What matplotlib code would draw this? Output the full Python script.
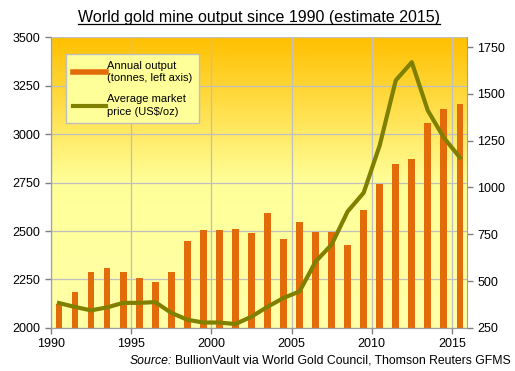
import matplotlib
matplotlib.use("Agg")
import matplotlib.pyplot as plt
import numpy as np
from matplotlib.colors import LinearSegmentedColormap
from matplotlib.lines import Line2D

plt.rcParams['font.family'] = ['Liberation Sans', 'DejaVu Sans']

years = list(range(1990, 2016))
# annual mine output, tonnes (left axis)
output = [2125, 2186, 2289, 2309, 2289, 2258, 2237, 2289, 2448, 2505,
          2505, 2510, 2490, 2593, 2459, 2546, 2495, 2495, 2428, 2608,
          2742, 2845, 2871, 3057, 3129, 3155]
# average gold price, US$/oz (right axis)
price = [383, 362, 344, 360, 384, 384, 388, 331, 294, 279,
         279, 271, 310, 363, 410, 445, 604, 695, 872, 972,
         1225, 1572, 1669, 1411, 1266, 1160]

left_ticks = [2000, 2250, 2500, 2750, 3000, 3250, 3500]
right_ticks = [250, 500, 750, 1000, 1250, 1500, 1750]
x_ticks = [1990, 1995, 2000, 2005, 2010, 2015]

BAR = '#E36C0A'
LINE = '#808000'
GRID = '#BFBFBF'

fig = plt.figure(figsize=(5.15, 3.71), dpi=100)
ax = fig.add_axes([0.099, 0.116, 0.808, 0.784])

# gradient background
cmap = LinearSegmentedColormap.from_list(
    'bg', [(0.0, '#FFFFA8'), (0.5, '#FFFF99'), (1.0, '#FFC000')])
grad = np.linspace(0, 1, 256).reshape(-1, 1)
ax.imshow(grad, aspect='auto', cmap=cmap, origin='lower',
          extent=[0, 1, 0, 1], transform=ax.transAxes, zorder=0)

xs = np.array(years) + 0.5
ax.bar(xs, output, width=0.42, color=BAR, zorder=2)
ax.set_xlim(1990, 2015.95)
ax.set_ylim(2000, 3500)
ax.set_yticks(left_ticks)
ax.set_xticks(x_ticks)
ax.grid(True, color=GRID, lw=0.9, zorder=1)
ax.set_axisbelow(True)

ax2 = ax.twinx()
ax2.plot(xs, price, color=LINE, lw=3, solid_joinstyle='round', zorder=3)
ax2.set_ylim(250, 1803)
ax2.set_yticks(right_ticks)

for a in (ax, ax2):
    for s in a.spines.values():
        s.set_color('#A0A0A0')
    a.tick_params(colors='#808080', labelcolor='black', labelsize=9,
                  length=4, width=1)
ax.spines['top'].set_visible(False)
ax2.spines['top'].set_visible(False)
ax.spines['right'].set_visible(False)

handles = [Line2D([], [], color=BAR, lw=4),
           Line2D([], [], color=LINE, lw=3)]
labels = ['Annual output\n(tonnes, left axis)', 'Average market\nprice (US$/oz)']
leg = ax2.legend(handles, labels, loc='upper left', bbox_to_anchor=(0.036, 0.942),
                 borderaxespad=0, fontsize=8, fancybox=False, framealpha=1,
                 facecolor='#FFFF99', edgecolor='#BFBFBF', handlelength=3.0,
                 handletextpad=0.1, borderpad=0.6, labelspacing=0.95)
leg.get_frame().set_linewidth(1)
for t in leg.get_texts():
    t.set_linespacing(1.35)

title = fig.text(0.503, 0.952, 'World gold mine output since 1990 (estimate 2015)',
                 ha='center', va='center', fontsize=11.5)

src_rest = fig.text(0.992, 0.028,
                    'BullionVault via World Gold Council, Thomson Reuters GFMS',
                    ha='right', va='center', fontsize=8.8)

fig.canvas.draw()
r = fig.canvas.get_renderer()
inv = fig.transFigure.inverted()
bb = title.get_window_extent(r)
(x0, y0), (x1, y1) = inv.transform([[bb.x0, bb.y0], [bb.x1, bb.y1]])
fig.add_artist(Line2D([x0, x1], [y0 + 0.004, y0 + 0.004], color='black', lw=0.9,
                      transform=fig.transFigure))
bb2 = src_rest.get_window_extent(r)
sx = inv.transform([[bb2.x0 - 3, bb2.y0]])[0][0]
fig.text(sx, 0.028, 'Source:', ha='right', va='center', fontsize=8.8, style='italic')

fig.savefig('out.png', dpi=100)
